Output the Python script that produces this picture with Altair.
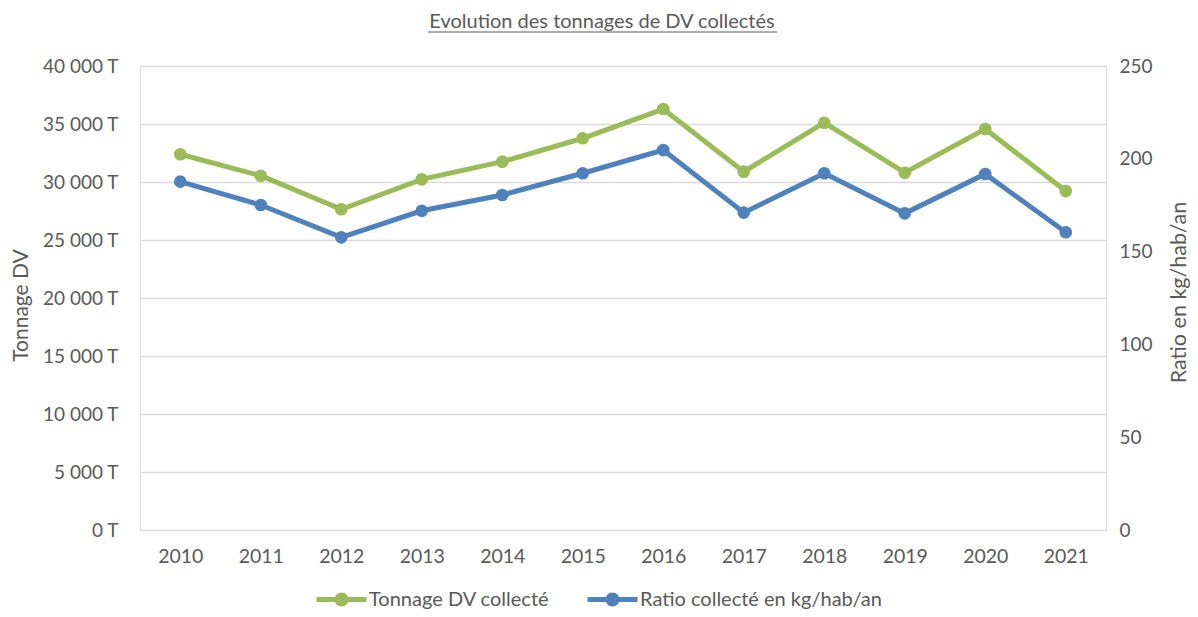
import altair as alt
import pandas as pd

years = [str(y) for y in range(2010, 2022)]
tonnage = [32390, 30540, 27650, 30230, 31750, 33770, 36290, 30890, 35110, 30800, 34570, 29220]
ratio = [187.7, 175.1, 157.7, 172.0, 180.5, 192.2, 204.7, 171.0, 192.2, 170.6, 191.8, 160.4]
series_names = ["Tonnage DV collecté", "Ratio collecté en kg/hab/an"]
colors = ["#9BBB59", "#4F81BD"]
title_text = "Evolution des tonnages de DV collectés"

FONT = "Lato"
GRAY = "#595959"

df = pd.DataFrame({
    "year": years * 2,
    "series": [series_names[0]] * len(years) + [series_names[1]] * len(years),
    "value": tonnage + ratio,
})

legend_path = ("M-1,0H1"
               "M-0.18,0A0.18,0.18 0 1,1 0.18,0A0.18,0.18 0 1,1 -0.18,0"
               "M-0.08,0A0.08,0.08 0 1,1 0.08,0A0.08,0.08 0 1,1 -0.08,0")

color = alt.Color(
    "series:N",
    scale=alt.Scale(domain=series_names, range=colors),
    legend=alt.Legend(
        title=None, orient="none", direction="horizontal",
        legendX=174, legendY=506, padding=0,
        symbolType=legend_path, symbolSize=2500, symbolStrokeWidth=5,
        symbolOpacity=1, labelFont=FONT, labelFontSize=20, labelColor=GRAY,
        labelOffset=0, columnPadding=27, labelLimit=400,
    ),
)

x = alt.X(
    "year:O", title=None,
    axis=alt.Axis(labelAngle=0, domain=False, ticks=False, labelPadding=17,
                  labelFont=FONT, labelFontSize=19.5, labelColor=GRAY, grid=False),
)

base = alt.Chart(df)

line_style = dict(strokeWidth=5, point=alt.OverlayMarkDef(size=160, filled=True, opacity=1))

left = base.transform_filter(alt.datum.series == series_names[0]).mark_line(**line_style).encode(
    x=x,
    y=alt.Y("value:Q", scale=alt.Scale(domain=[0, 40000]),
            axis=alt.Axis(title="Tonnage DV", values=list(range(0, 40001, 5000)),
                          labelExpr="replace(format(datum.value, ','), ',', ' ') + ' T'",
                          grid=True, gridColor="#D9D9D9", gridWidth=1.5, domain=False, ticks=False,
                          labelPadding=22, labelFont=FONT, labelFontSize=19, labelColor=GRAY,
                          titleFont=FONT, titleFontSize=21, titleColor=GRAY, titleFontWeight="normal",
                          titleX=-119, titleY=239, titleAngle=270, titleBaseline="middle",
                          titleAlign="center")),
    color=color,
)

right = base.transform_filter(alt.datum.series == series_names[1]).mark_line(**line_style).encode(
    x=x,
    y=alt.Y("value:Q", scale=alt.Scale(domain=[0, 250]),
            axis=alt.Axis(title="Ratio en kg/hab/an", orient="right", values=list(range(0, 251, 50)),
                          grid=False, domain=False, ticks=False,
                          labelPadding=13, labelFont=FONT, labelFontSize=19, labelColor=GRAY,
                          titleFont=FONT, titleFontSize=21.5, titleColor=GRAY, titleFontWeight="normal",
                          titleX=73, titleY=226, titleAngle=270, titleBaseline="middle",
                          titleAlign="center")),
    color=color,
)

underline = alt.Chart(pd.DataFrame({"u": [0]})).mark_rule(color=GRAY, strokeWidth=1).encode(
    x=alt.value(288), x2=alt.value(637), y=alt.value(-34)
)

chart = alt.layer(left, right, underline).resolve_scale(y="independent").properties(
    width=966, height=464,
    padding={"left": 132, "top": 58, "right": 84, "bottom": 79},
    autosize=alt.AutoSizeParams(type="none"),
    title=alt.TitleParams(title_text, font=FONT, fontSize=20, color=GRAY, fontWeight="normal",
                          anchor="middle", frame="group", dx=-21, offset=0),
).configure_view(stroke=None).configure(background="white")

chart.save("out.html", embed_options={"renderer": "svg", "actions": False})
